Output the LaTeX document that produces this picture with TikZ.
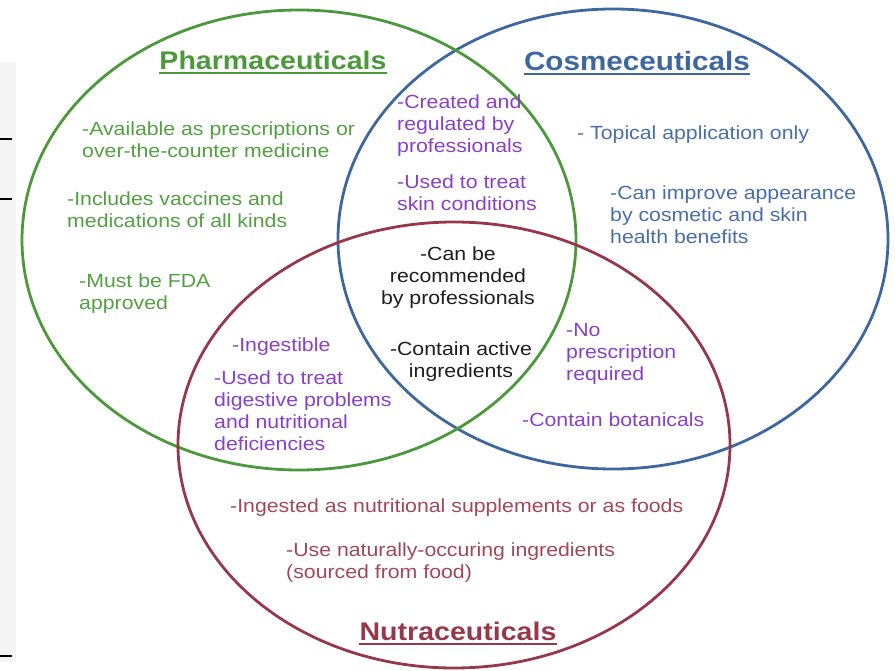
\documentclass[tikz,border=0pt]{standalone}
\usepackage{fontspec}
\setmainfont{Liberation Sans}[FakeStretch=1.12]
\usepackage{xcolor}
\usepackage{tikz}

\definecolor{pharmaGreen}{RGB}{76,153,60}
\definecolor{pharmaText}{RGB}{82,160,64}
\definecolor{cosmoBlue}{RGB}{62,103,160}
\definecolor{cosmoText}{RGB}{72,110,170}
\definecolor{nutraRed}{RGB}{150,56,74}
\definecolor{nutraText}{RGB}{160,72,88}
\definecolor{mixPurple}{RGB}{136,64,200}
\definecolor{coreText}{RGB}{30,30,30}
\definecolor{panelGray}{RGB}{244,244,244}

\begin{document}
\begin{tikzpicture}[
  x=1pt, y=-1pt,
  set/.style={line width=2.8pt},
  title/.style={font=\fontsize{25.5}{30}\selectfont\bfseries, inner sep=0pt, anchor=base},
  uline/.style={line width=2pt},
  txt/.style={font=\fontsize{19}{22}\selectfont, inner sep=0pt, align=left, anchor=west},
  core/.style={txt, align=center, anchor=center, coreText},
  tick/.style={line width=1.6pt, black},
]
\useasboundingbox (0,0) rectangle (895,671);

% ---- Left margin panel ----------------------------------------------------
\fill[panelGray] (0,62) rectangle (16,662);
\foreach \ty in {139, 199, 656} {
  \draw[tick] (0,\ty) -- (12,\ty);
}

% ---- Sets -----------------------------------------------------------------
\draw[set, cosmoBlue] (613,239) ellipse [x radius=275pt, y radius=230pt];
\draw[set, pharmaGreen] (299,240) ellipse [x radius=277pt, y radius=230pt];
\draw[set, nutraRed] (454,445) ellipse [x radius=276pt, y radius=223pt];

% ---- Titles ---------------------------------------------------------------
\node[title, pharmaGreen] (pharmaTitle) at (273,70) {Pharmaceuticals};
\draw[uline, pharmaGreen] ([yshift=-3.5pt]pharmaTitle.base west) -- ([yshift=-3.5pt]pharmaTitle.base east);
\node[title, cosmoBlue, font=\fontsize{26.5}{30}\selectfont\bfseries] (cosmoTitle) at (637,71) {Cosmeceuticals};
\draw[uline, cosmoBlue] ([yshift=-3.5pt]cosmoTitle.base west) -- ([yshift=-3.5pt]cosmoTitle.base east);
\node[title, nutraRed] (nutraTitle) at (458,640) {Nutraceuticals};
\draw[uline, nutraRed] ([yshift=-3.5pt]nutraTitle.base west) -- ([yshift=-3.5pt]nutraTitle.base east);

% ---- Pharmaceuticals only -------------------------------------------------
\node[txt, pharmaText] (pAvail) at (82,139.5) {-Available as prescriptions or\\over-the-counter medicine};
\node[txt, pharmaText] (pVacc) at (67,209.5) {-Includes vaccines and\\medications of all kinds};
\node[txt, pharmaText] (pFDA) at (79,294) {-Must be FDA\\approved};

% ---- Cosmeceuticals only --------------------------------------------------
\node[txt, cosmoText] (cTopical) at (577,135) {- Topical application only};
\node[txt, cosmoText] (cAppear) at (610,214.5) {-Can improve appearance\\by cosmetic and skin\\health benefits};

% ---- Pharma + Cosme -------------------------------------------------------
\node[txt, mixPurple] (pcCreated) at (397,126) {-Created and\\regulated by\\professionals};
\node[txt, mixPurple] (pcSkin) at (397,192.5) {-Used to treat\\skin conditions};

% ---- All three ------------------------------------------------------------
\node[core] (allRec) at (458,278) {-Can be\\recommended\\by professionals};
\node[core] (allActive) at (461,362) {-Contain active\\ingredients};

% ---- Pharma + Nutra -------------------------------------------------------
\node[txt, mixPurple] (pnIngest) at (232,347) {-Ingestible};
\node[txt, mixPurple] (pnDigest) at (214,411) {-Used to treat\\digestive problems\\and nutritional\\deficiencies};

% ---- Cosme + Nutra --------------------------------------------------------
\node[txt, mixPurple] (cnNoRx) at (566,354) {-No\\prescription\\required};
\node[txt, mixPurple] (cnBot) at (522,420) {-Contain botanicals};

% ---- Nutraceuticals only --------------------------------------------------
\node[txt, nutraText] (nSupp) at (230,508) {-Ingested as nutritional supplements or as foods};
\node[txt, nutraText] (nNatural) at (286,562.5) {-Use naturally-occuring ingredients\\(sourced from food)};

\end{tikzpicture}
\end{document}
